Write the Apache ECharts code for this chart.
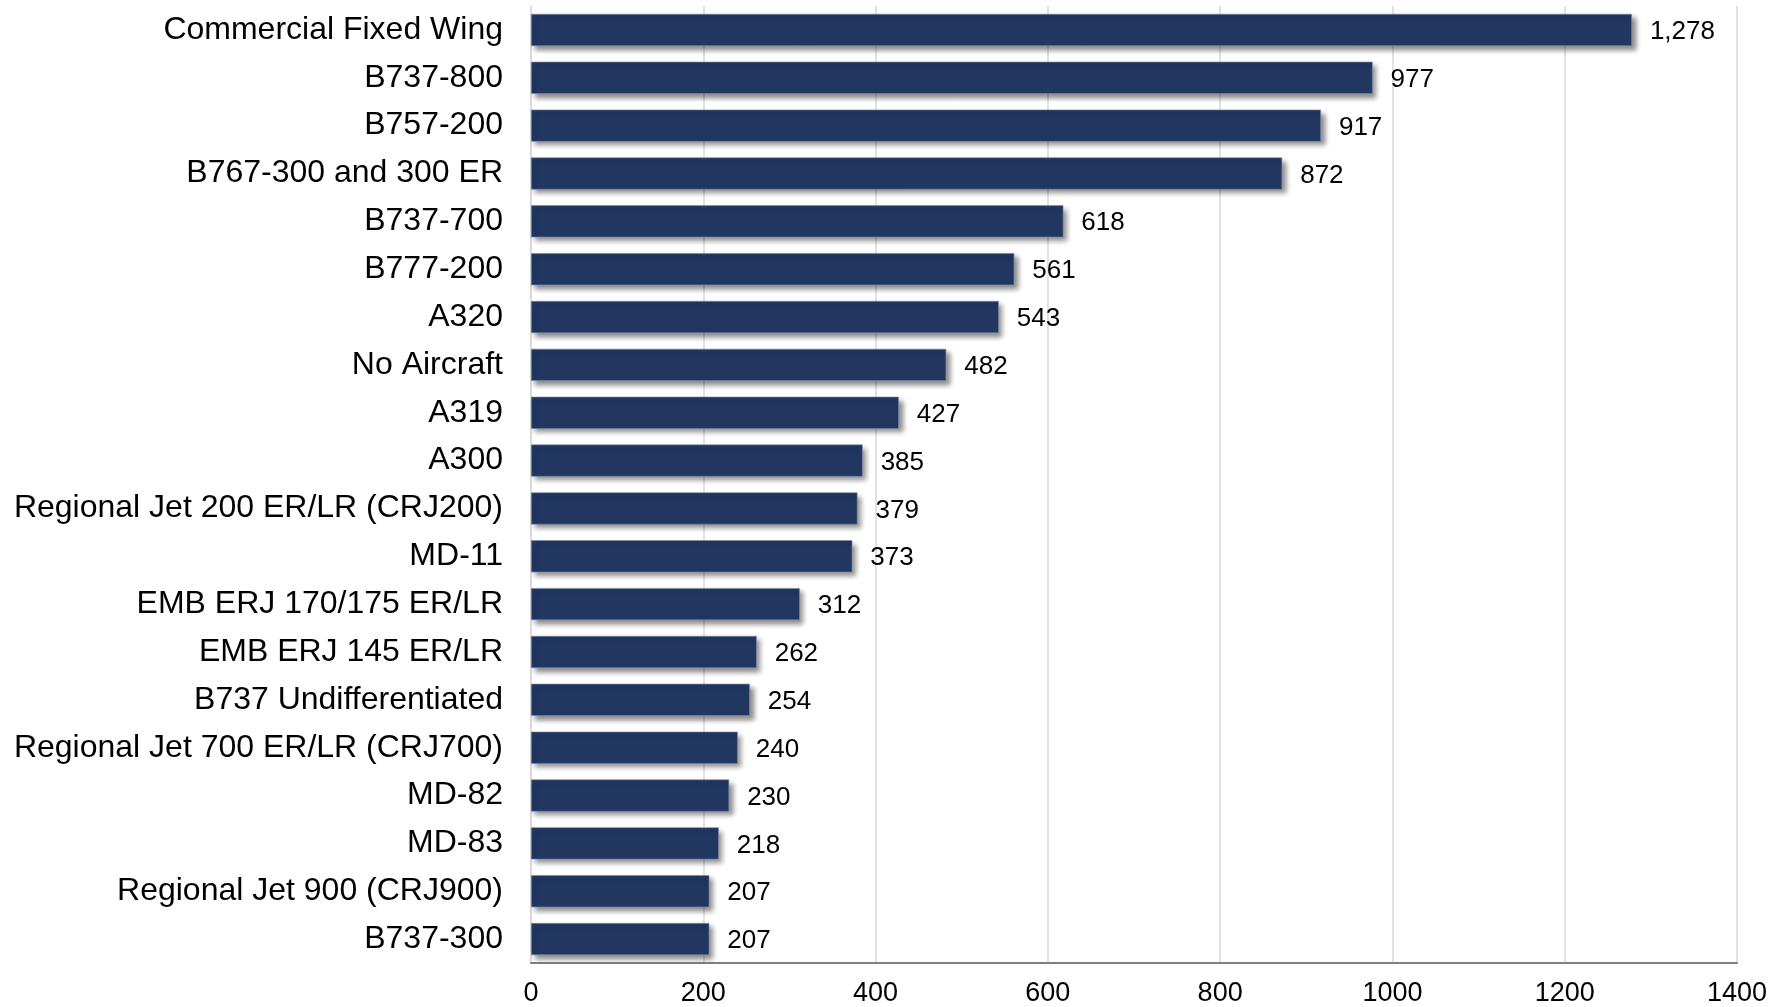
<!DOCTYPE html>
<html><head><meta charset="utf-8">
<script src="https://cdn.jsdelivr.net/npm/echarts@6/dist/echarts.min.js"></script>
<style>html,body{margin:0;padding:0;background:#fff}#c{width:1773px;height:1007px}</style>
</head><body><div id="c"></div>
<script>
const categories = ["Commercial Fixed Wing","B737-800","B757-200","B767-300 and 300 ER","B737-700","B777-200","A320","No Aircraft","A319","A300","Regional Jet 200 ER/LR (CRJ200)","MD-11","EMB ERJ 170/175 ER/LR","EMB ERJ 145 ER/LR","B737 Undifferentiated","Regional Jet 700 ER/LR (CRJ700)","MD-82","MD-83","Regional Jet 900 (CRJ900)","B737-300"];
const values = [1278,977,917,872,618,561,543,482,427,385,379,373,312,262,254,240,230,218,207,207];
const xTicks = [0,200,400,600,800,1000,1200,1400];

const chart = echarts.init(document.getElementById('c'));
chart.setOption({
  animation:false,
  grid:{left:531,right:36,top:6,bottom:44,containLabel:false,outerBoundsMode:'none'},
  xAxis:{type:'value',min:xTicks[0],max:xTicks[xTicks.length-1],interval:200,
    axisLine:{show:true,lineStyle:{color:'#808080',width:2}},
    axisTick:{show:false},
    splitLine:{show:true,lineStyle:{color:'#d9d9d9',width:1.5}},
    axisLabel:{color:'#000',fontFamily:'Liberation Sans Narrow, Arial Narrow, Liberation Sans, Arial',fontSize:27,margin:17,
      formatter:v=>String(v)}},
  yAxis:{type:'category',data:categories,inverse:true,
    axisLine:{show:true,lineStyle:{color:'#d9d9d9',width:1.5}},
    axisTick:{show:false},
    axisLabel:{color:'#000',fontFamily:'Liberation Sans, Arial',fontSize:32,margin:28}},
  series:[{type:'bar',data:values,barCategoryGap:'33%',
    itemStyle:{color:'#213761',borderColor:'#7f8ca3',borderWidth:0.6,shadowColor:'rgba(0,0,0,0.45)',shadowBlur:5,shadowOffsetX:4,shadowOffsetY:4},
    label:{show:true,position:'right',distance:18,color:'#000',fontFamily:'Liberation Sans, Arial',fontSize:26,offset:[0,2],
      formatter:p=>p.value.toLocaleString('en-US')}}]
});
</script></body></html>
